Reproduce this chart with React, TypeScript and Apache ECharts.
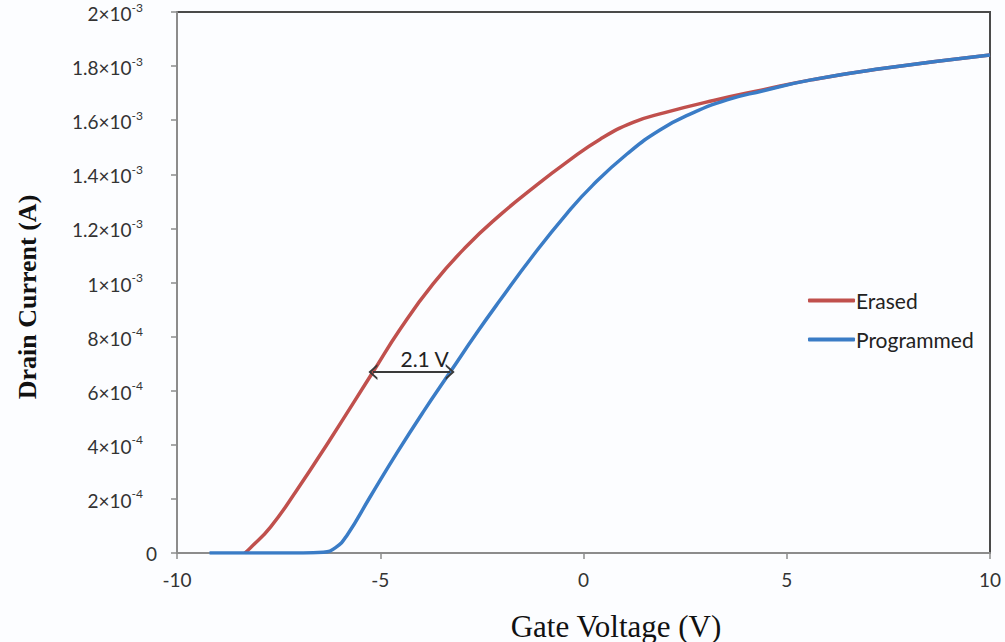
import React, { useEffect, useRef } from "react";
import * as echarts from "echarts";

// Gate voltage (V) and drain current (A)
const erasedVoltage = [-8.33, -8.2, -7.7, -7.05, -6.24, -5.18, -4.5, -3.7, -2.87, -2.05, -1.24, -0.41, 0.41, 1.22, 2.0, 3.2, 4.4, 5.6, 7.3, 10];
const erasedCurrent = [0, 0.018e-3, 0.096e-3, 0.233e-3, 0.418e-3, 0.669e-3, 0.83e-3, 0.995e-3, 1.135e-3, 1.25e-3, 1.35e-3, 1.445e-3, 1.53e-3, 1.592e-3, 1.628e-3, 1.673e-3, 1.712e-3, 1.749e-3, 1.79e-3, 1.841e-3];

const programmedVoltage = [-9.2, -6.9, -6.4, -6.1, -5.82, -5.25, -4.59, -3.95, -3.28, -2.62, -2.05, -1.24, -0.41, 0.23, 1.07, 1.88, 2.69, 3.53, 4.4, 5.6, 7.3, 10];
const programmedCurrent = [0, 0, 0.003e-3, 0.02e-3, 0.065e-3, 0.207e-3, 0.37e-3, 0.52e-3, 0.669e-3, 0.815e-3, 0.935e-3, 1.1e-3, 1.255e-3, 1.36e-3, 1.475e-3, 1.564e-3, 1.627e-3, 1.675e-3, 1.708e-3, 1.749e-3, 1.79e-3, 1.841e-3];

const seriesNames = ["Erased", "Programmed"];
const seriesColors = ["#c0504d", "#3a7cc6"];

// Annotation: threshold shift arrow
const shiftLevel = 0.669e-3;
const shiftFrom = -5.18;
const shiftTo = -3.28;
const shiftLabel = "2.1 V";

const xTitle = "Gate Voltage (V)";
const yTitle = "Drain Current (A)";

const xTicks = { min: -10, max: 10, interval: 5 };
const yTicks = { min: 0, max: 2e-3, interval: 2e-4 };

const toPairs = (xs: number[], ys: number[]) => xs.map((x, i) => [x, ys[i]]);

const fmtY = (v: number) => {
  if (Math.abs(v) < 1e-12) return "{z|0}";
  const e = v >= 0.99999e-3 ? -3 : -4;
  const m = Number((v / Math.pow(10, e)).toFixed(1));
  return `{b|${m}×10}{s|${e}}{p|}`;
};

const chevron = "path://M0,10 L5,0 L10,10 L8.4,10 L5,3.2 L1.6,10 Z";

export default function App() {
  const ref = useRef<HTMLDivElement>(null);
  useEffect(() => {
    document.body.style.margin = "0";
    document.body.style.overflow = "hidden";
    if (!ref.current) return;
    const chart = echarts.init(ref.current, undefined, { renderer: "svg" });
    const labelFont = "Lato, 'Open Sans', sans-serif";
    const serif = "'Liberation Serif', 'DejaVu Serif', serif";
    chart.setOption({
      animation: false,
      backgroundColor: "#fcfdff",
      grid: {
        left: 177,
        right: 15,
        top: 12,
        bottom: 89,
        show: true,
        borderColor: "#4a4a4a",
        borderWidth: 2,
        backgroundColor: "transparent",
      },
      graphic: [
        {
          type: "text",
          x: 616,
          y: 626,
          style: { text: xTitle, font: `31px ${serif}`, fill: "#111", textAlign: "center", textVerticalAlign: "middle" },
        },
        {
          type: "text",
          x: 27,
          y: 297,
          rotation: Math.PI / 2,
          style: { text: yTitle, font: `bold 26px ${serif}`, fill: "#111", textAlign: "center", textVerticalAlign: "middle" },
        },
      ],
      legend: {
        orient: "vertical",
        left: 803,
        top: 285,
        itemWidth: 47,
        itemHeight: 4,
        itemGap: 18,
        icon: "roundRect",
        data: seriesNames,
        textStyle: { fontFamily: labelFont, fontSize: 21, color: "#222", padding: [0, 0, 0, -4] },
      },
      xAxis: {
        type: "value",
        min: xTicks.min,
        max: xTicks.max,
        interval: xTicks.interval,
        axisLine: { show: true, onZero: false, lineStyle: { color: "#8c8c8c", width: 2 } },
        axisTick: { show: true, length: 6, lineStyle: { color: "#8c8c8c", width: 1.5 } },
        axisLabel: { fontFamily: labelFont, fontSize: 19, color: "#333", margin: 17 },
        splitLine: { show: false },
      },
      yAxis: {
        type: "value",
        min: yTicks.min,
        max: yTicks.max,
        interval: yTicks.interval,
        axisLine: { show: true, onZero: false, lineStyle: { color: "#8c8c8c", width: 2 } },
        axisTick: { show: true, length: 6, lineStyle: { color: "#8c8c8c", width: 1.5 } },
        axisLabel: {
          margin: 20,
          formatter: fmtY,
          rich: {
            z: { fontFamily: labelFont, fontSize: 19, color: "#333", lineHeight: 22 },
            b: { fontFamily: labelFont, fontSize: 19, color: "#333", lineHeight: 22, verticalAlign: "bottom" },
            s: { fontFamily: labelFont, fontSize: 12, color: "#333", lineHeight: 22, verticalAlign: "top" },
            p: { width: 14 },
          },
        },
        splitLine: { show: false },
      },
      series: [
        {
          name: seriesNames[0],
          type: "line",
          data: toPairs(erasedVoltage, erasedCurrent),
          showSymbol: false,
          symbol: "none",
          smooth: 0.5,
          lineStyle: { color: seriesColors[0], width: 3.5 },
          itemStyle: { color: seriesColors[0] },
          z: 3,
          markLine: {
            silent: true,
            symbol: [chevron, chevron],
            symbolSize: [16, 9],
            lineStyle: { color: "#3a3a3a", width: 2, type: "solid" },
            label: {
              show: true,
              position: "middle",
              formatter: shiftLabel,
              fontFamily: labelFont,
              fontSize: 21,
              color: "#222",
              distance: 3,
              padding: [0, 0, 0, 26],
            },
            data: [[{ coord: [shiftFrom, shiftLevel] }, { coord: [shiftTo, shiftLevel] }]],
          },
        },
        {
          name: seriesNames[1],
          type: "line",
          data: toPairs(programmedVoltage, programmedCurrent),
          showSymbol: false,
          symbol: "none",
          smooth: 0.5,
          lineStyle: { color: seriesColors[1], width: 3.5 },
          itemStyle: { color: seriesColors[1] },
          z: 4,
        },
      ],
    });
    return () => chart.dispose();
  }, []);
  return <div ref={ref} style={{ width: 1005, height: 642 }} />;
}
